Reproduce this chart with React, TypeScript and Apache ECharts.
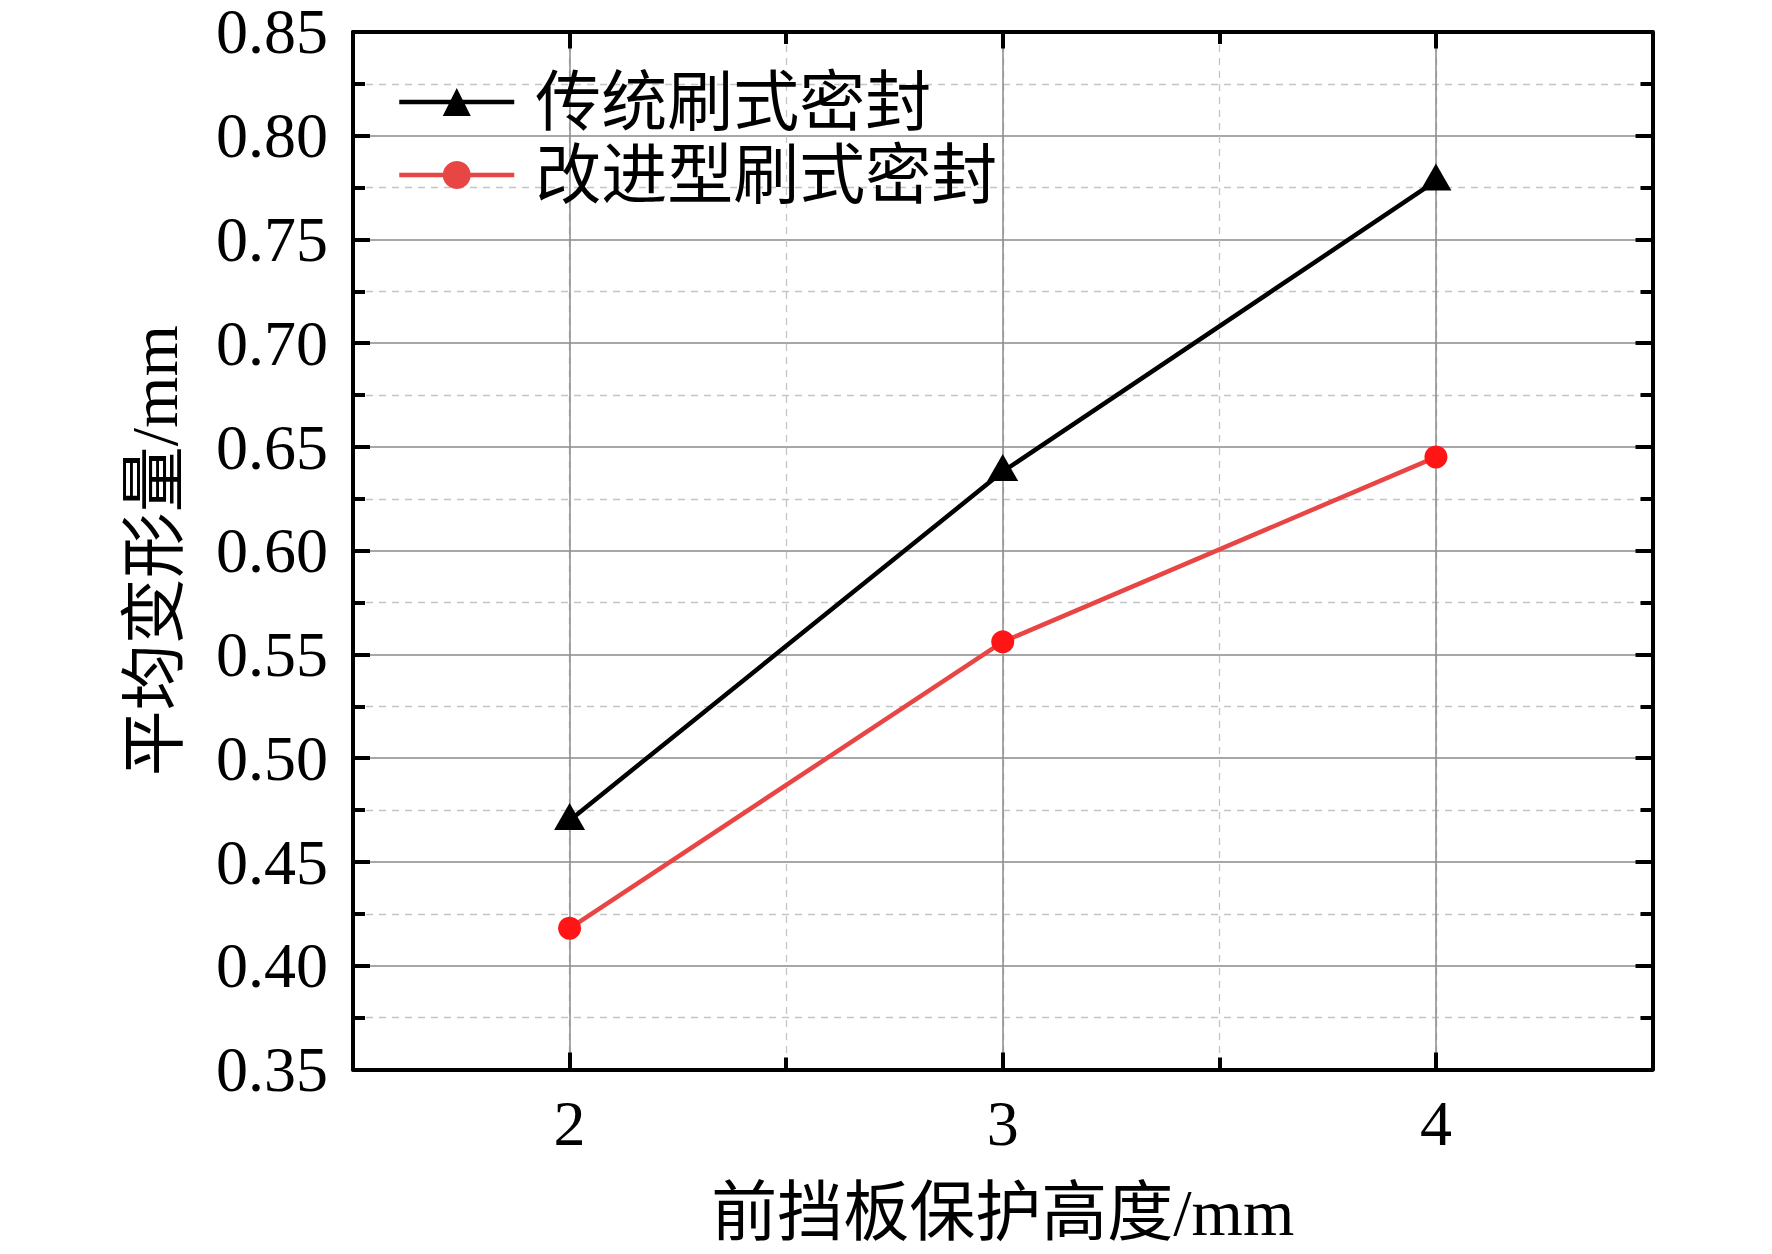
import React, { useEffect, useRef } from "react";
import * as echarts from "echarts";

// ---- data ----
const xTicks = [2, 3, 4];
const seriesNames = ["传统刷式密封", "改进型刷式密封"];
const traditional = [0.47, 0.638, 0.778];
const improved = [0.418, 0.556, 0.645];
const yMin = 0.35;
const yMax = 0.85;
const yStep = 0.05;
const xMin = 1.5;
const xMax = 4.5;
const xMinorStep = 0.5;
const xName = "前挡板保护高度/mm";
const yName = "平均变形量/mm";

const FONT = "'Liberation Serif', 'Times New Roman', 'Noto Sans CJK SC', serif";

export default function App() {
  const ref = useRef<HTMLDivElement>(null);
  useEffect(() => {
    if (!ref.current) return;
    const chart = echarts.init(ref.current, undefined, { renderer: "svg" });
    const L = 353;
    const T = 31.5;
    const W = 1299.5;
    const H = 1038;
    const unit = W / (xMax - xMin);
    const gL = L + (xTicks[0] - xMin) * unit;
    const gW = (xTicks[xTicks.length - 1] - xTicks[0]) * unit;

    const frameLine = { show: true, lineStyle: { color: "#000", width: 4 } };
    const minorTick = { show: true, inside: true, length: 12, lineStyle: { color: "#000", width: 4 } };
    const majorTick = { show: true, inside: true, length: 17, lineStyle: { color: "#000", width: 4 } };

    const option: any = {
      animation: false,
      backgroundColor: "#fff",
      grid: [
        { left: L, top: T, width: W, height: H, containLabel: false },
        { left: gL, top: T, width: gW, height: H, containLabel: false },
      ],
      xAxis: [
        {
          gridIndex: 0, type: "value", position: "bottom",
          min: xMin, max: xMax, interval: xMinorStep,
          axisLine: frameLine, axisTick: minorTick, axisLabel: { show: false },
          splitLine: { show: true, lineStyle: { color: "#c4c4c4", width: 1.3, type: [7, 6] } },
        },
        {
          gridIndex: 0, type: "value", position: "top",
          min: xMin, max: xMax, interval: xMinorStep,
          axisLine: frameLine, axisTick: minorTick, axisLabel: { show: false },
          splitLine: { show: false },
        },
        {
          gridIndex: 1, type: "value", position: "bottom",
          min: xTicks[0], max: xTicks[xTicks.length - 1], interval: 1,
          axisLine: { show: false }, axisTick: majorTick,
          axisLabel: { show: true, fontSize: 64, fontFamily: FONT, color: "#000", margin: 22 },
          splitLine: { show: true, lineStyle: { color: "#8a8a8a", width: 1.5 } },
          name: xName, nameLocation: "middle", nameGap: 110,
          nameTextStyle: { fontSize: 66, fontFamily: FONT, color: "#000" },
        },
        {
          gridIndex: 1, type: "value", position: "top",
          min: xTicks[0], max: xTicks[xTicks.length - 1], interval: 1,
          axisLine: { show: false }, axisTick: majorTick, axisLabel: { show: false },
          splitLine: { show: false },
        },
      ],
      yAxis: [
        {
          gridIndex: 0, type: "value", position: "left",
          min: yMin, max: yMax, interval: yStep,
          axisLine: frameLine, axisTick: majorTick,
          minorTick: { show: true, splitNumber: 2, length: 12, lineStyle: { color: "#000", width: 4 } },
          axisLabel: {
            show: true, fontSize: 64, lineHeight: 50, fontFamily: FONT, color: "#000", margin: 25,
            formatter: (v: number) => v.toFixed(2),
          },
          splitLine: { show: true, lineStyle: { color: "#8a8a8a", width: 1.5 } },
          minorSplitLine: { show: true, lineStyle: { color: "#c4c4c4", width: 1.3, type: [7, 6] } },
          name: yName, nameLocation: "middle", nameGap: 166,
          nameTextStyle: { fontSize: 66, fontFamily: FONT, color: "#000" },
        },
        {
          gridIndex: 0, type: "value", position: "right",
          min: yMin, max: yMax, interval: yStep,
          axisLine: frameLine, axisTick: majorTick,
          minorTick: { show: true, splitNumber: 2, length: 12, lineStyle: { color: "#000", width: 4 } },
          axisLabel: { show: false }, splitLine: { show: false },
        },
        {
          gridIndex: 1, type: "value", min: yMin, max: yMax, interval: yStep, show: false,
          splitLine: { show: false },
        },
      ],
      legend: {
        orient: "vertical", left: 397, top: 69, padding: 0,
        itemWidth: 115, itemHeight: 35, itemGap: 7,
        textStyle: { fontSize: 66, lineHeight: 66, fontFamily: FONT, color: "#000", padding: [0, 0, 0, 16] },
        data: [
          { name: seriesNames[0], lineStyle: { color: "#000", width: 4.5 } },
          { name: seriesNames[1], itemStyle: { color: "#e84545" }, lineStyle: { color: "#e84545", width: 4.5 } },
        ],
      },
      series: [
        {
          name: seriesNames[0], type: "line", xAxisIndex: 2, yAxisIndex: 2,
          data: xTicks.map((x, i) => [x, traditional[i]]),
          symbol: "triangle", symbolSize: [31, 27], symbolOffset: [0, -4],
          lineStyle: { color: "#000", width: 4.5 },
          itemStyle: { color: "#000" },
          z: 3,
        },
        {
          name: seriesNames[1], type: "line", xAxisIndex: 2, yAxisIndex: 2,
          data: xTicks.map((x, i) => [x, improved[i]]),
          symbol: "circle", symbolSize: 23,
          lineStyle: { color: "#e84545", width: 4.5 },
          itemStyle: { color: "#ff1515" },
          z: 3,
        },
      ],
    };
    chart.setOption(option);
    return () => chart.dispose();
  }, []);
  return (
    <div
      ref={ref}
      style={{ position: "fixed", left: 0, top: 0, width: 1772, height: 1254, background: "#fff" }}
    />
  );
}
